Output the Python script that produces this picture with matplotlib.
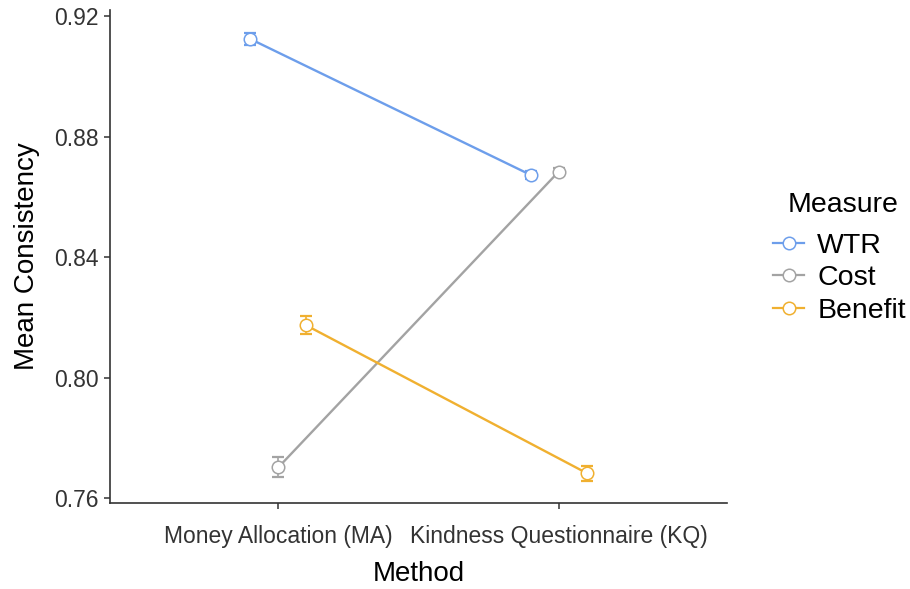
import matplotlib
matplotlib.use("Agg")
import matplotlib.pyplot as plt
from matplotlib.lines import Line2D
import numpy as np

plt.rcParams["font.family"] = ["Liberation Sans", "DejaVu Sans"]

methods = ["Money Allocation (MA)", "Kindness Questionnaire (KQ)"]
measures = ["WTR", "Cost", "Benefit"]
means = {
    "WTR": [0.9124, 0.8673],
    "Cost": [0.7703, 0.8684],
    "Benefit": [0.8174, 0.7684],
}
errors = {
    "WTR": [0.0021, 0.0012],
    "Cost": [0.0033, 0.0012],
    "Benefit": [0.0030, 0.0025],
}
colors = {"WTR": "#6D9EEB", "Cost": "#A3A3A3", "Benefit": "#F0B030"}
y_ticks = [0.76, 0.80, 0.84, 0.88, 0.92]

W, H = 910, 589
fig = plt.figure(figsize=(W / 100, H / 100), dpi=100)
ax = fig.add_axes([110 / W, 1 - 503 / H, (727 - 110) / W, (503 - 10) / H])

x = np.arange(1, len(methods) + 1)
dodge = 0.1
for i, m in enumerate(measures):
    xs = x + (i - 1) * dodge
    c = colors[m]
    ax.plot(xs, means[m], color=c, lw=1.7, zorder=2)
    ax.errorbar(xs, means[m], yerr=errors[m], fmt="none", ecolor=c,
                elinewidth=1.2, capsize=4, capthick=1.6, zorder=3)
    ax.plot(xs, means[m], "o", ms=9, mfc="white", mec=c, mew=1.1, zorder=4)

ax.set_xlim(0.4, 2.6)
ax.set_ylim(0.7585, 0.922)
ax.set_xticks(x)
ax.set_xticklabels(methods, fontsize=16.5, color="#333333")
ax.set_yticks(y_ticks)
ax.set_yticklabels([f"{v:.2f}" for v in y_ticks], fontsize=16.5, color="#333333")
ax.tick_params(axis="both", length=4, width=1.1, color="#333333", pad=4)
ax.tick_params(axis="x", pad=12)
for s in ["top", "right"]:
    ax.spines[s].set_visible(False)
for s in ["left", "bottom"]:
    ax.spines[s].set_linewidth(1.2)
    ax.spines[s].set_color("#333333")

ax.set_xlabel("Method", fontsize=20, labelpad=9)
ax.set_ylabel("Mean Consistency", fontsize=20, labelpad=10)

fig.text(788 / W, 1 - 205 / H, "Measure", fontsize=20.5, va="center", ha="left")
handles = [Line2D([0], [0], color=colors[m], lw=1.6, marker="o", ms=9,
                  mfc="white", mec=colors[m], mew=1.1) for m in measures]
fig.legend(handles, measures, loc="upper left",
           bbox_to_anchor=(773 / W, 1 - 233 / H), frameon=False, fontsize=20.5,
           handlelength=1.1, handletextpad=0.45, labelspacing=0.22,
           borderpad=0, borderaxespad=0)

fig.savefig("out.png", dpi=100)
